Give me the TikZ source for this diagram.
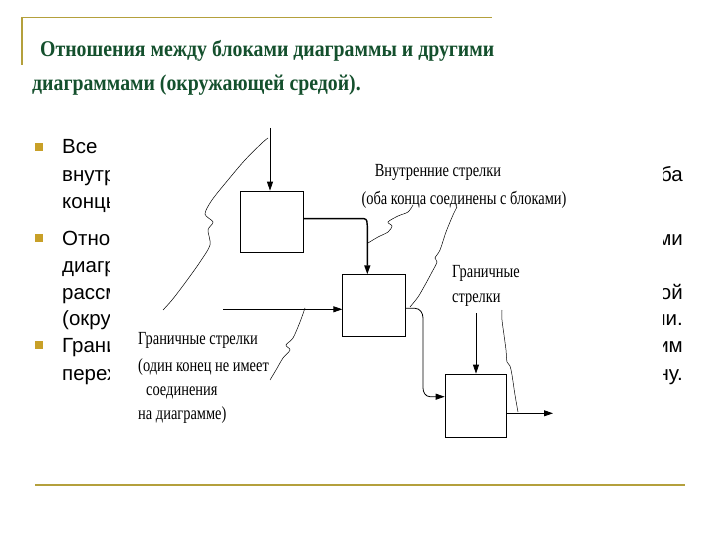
\documentclass[tikz,border=0pt]{standalone}
\usepackage{fontspec}
\setmainfont{Liberation Sans}
\newfontfamily\ttlfont[FakeStretch=0.88]{Liberation Serif}
\newfontfamily\narrow[FakeStretch=0.78]{Liberation Serif}
\usetikzlibrary{arrows.meta}
\definecolor{gold}{RGB}{180,160,60}
\definecolor{ttl}{RGB}{20,80,45}
\definecolor{bul}{RGB}{200,160,40}
\begin{document}
\begin{tikzpicture}[x=1pt,y=-1pt,
  txt/.style={anchor=base west,inner sep=0,font=\fontsize{20.5}{24}\selectfont},
  rtxt/.style={anchor=base east,inner sep=0,font=\fontsize{20.5}{24}\selectfont},
  lbl/.style={inner sep=0,font=\narrow\fontsize{18.5}{21}\selectfont},
  blk/.style={draw,line width=0.8pt,inner sep=0},
  arr/.style={line width=0.8pt,-{Triangle[length=9pt,width=6pt]}},
  wig/.style={line width=0.5pt}]
\useasboundingbox (0,0) rectangle (720,540);
\fill[white] (0,0) rectangle (720,540);
% frame lines
\draw[gold,line width=1.6pt] (22,65) -- (22,17.5) -- (492,17.5);
\draw[gold,line width=1.2pt] (35,485) -- (685,485);
% title
\node[anchor=base west,inner sep=0,text=ttl,font=\ttlfont\bfseries\fontsize{22.5}{26}\selectfont] (t1) at (40,57) {Отношения между блоками диаграммы и другими};
\node[anchor=base west,inner sep=0,text=ttl,font=\ttlfont\bfseries\fontsize{22.5}{26}\selectfont] (t2) at (32,91) {диаграммами (окружающей средой).};
% bullets
\foreach \y/\n in {147/b1,238/b2,345/b3}{\fill[bul] (35,\y-4) rectangle (43,\y+4);}
\node[txt] (l1) at (62,154) {Все};
\node[txt] (l2) at (62,182) {внутр};
\node[txt] (l3) at (62,209) {концы};
\node[txt] (l4) at (62,245) {Отнош};
\node[txt] (l5) at (62,272) {диагр};
\node[txt] (l6) at (62,299) {рассм};
\node[txt] (l7) at (62,325) {(окру};
\node[txt] (l8) at (62,352) {Грани};
\node[txt] (l9) at (62,380) {перех};
\node[rtxt] (r2) at (683,182) {оба};
\node[rtxt] (r4) at (683,245) {ми};
\node[rtxt] (r6) at (683,299) {ой};
\node[rtxt] (r7) at (683,325) {ми.};
\node[rtxt] (r8) at (683,352) {мим};
\node[rtxt] (r9) at (683,380) {ну.};
% diagram area
\fill[white] (110,123) rectangle (663,445);
\node[blk,minimum width=62.6pt,minimum height=61.3pt] (B1) at (272,221.7) {};
\node[blk,minimum width=62.3pt,minimum height=62.4pt] (B2) at (373.9,305.5) {};
\node[blk,minimum width=61.7pt,minimum height=63.3pt] (B3) at (475.9,405.7) {};
\coordinate (c1) at (270,128);
\coordinate (c2) at (223,309.3);
\coordinate (c3) at (476,313);
\coordinate (c4) at (553,413.3);
\draw[arr] (c1) -- (c1 |- B1.north);
\draw[arr,line width=1.4pt] (B1.east |- 0,218.7) -- (364,218.7) to[out=0,in=90] (367.3,226) -- (367.3,274.3);
\draw[arr] (c2) -- (B2.west |- c2);
\draw[arr] (B2.east |- 0,308.3) -- (415,308.3) to[out=0,in=90] (423,318) -- (423,388) to[out=-90,in=180] (430,396.7) -- (B3.west |- 0,396.7);
\draw[arr] (c3) -- (c3 |- B3.north);
\draw[arr] (B3.east |- c4) -- (c4);
% labels
\node[lbl] (L1) at (438,172.7) {Внутренние стрелки};
\node[lbl] (L2) at (464,200) {(оба конца соединены с блоками)};
\node[lbl,anchor=west] (L3) at (452,273) {Граничные};
\node[lbl,anchor=west] (L4) at (452,300) {стрелки};
\node[lbl,anchor=west] (L5) at (138,340) {Граничные стрелки};
\node[lbl,anchor=west] (L6) at (138,366.7) {(один конец не имеет};
\node[lbl,anchor=west] (L7) at (146,393) {соединения};
\node[lbl,anchor=west] (L8) at (138,415) {на диаграмме)};
% wiggly leaders
\draw[wig] plot[smooth] coordinates {(163,310) (172,300) (185,283) (200,262) (210,245) (208,230) (213,222) (205,214) (212,200) (228,180) (245,160) (262,143) (268,138)};
\draw[wig] plot[smooth] coordinates {(270,380) (276,370) (283,358) (290,350) (286,345) (293,338) (300,322) (305,308)};
\draw[wig] plot[smooth] coordinates {(368,243) (378,237) (388,232) (392,226) (388,222) (398,216) (408,212) (413,205)};
\draw[wig] plot[smooth] coordinates {(410,307) (418,297) (425,285) (432,272) (437,262) (435,258) (440,250) (446,232) (453,215) (457,207)};
\draw[wig] plot[smooth] coordinates {(518,412) (515,395) (512,375) (510,366) (507,362) (506,350) (504,335) (502,320) (502,310)};
\end{tikzpicture}
\end{document}
